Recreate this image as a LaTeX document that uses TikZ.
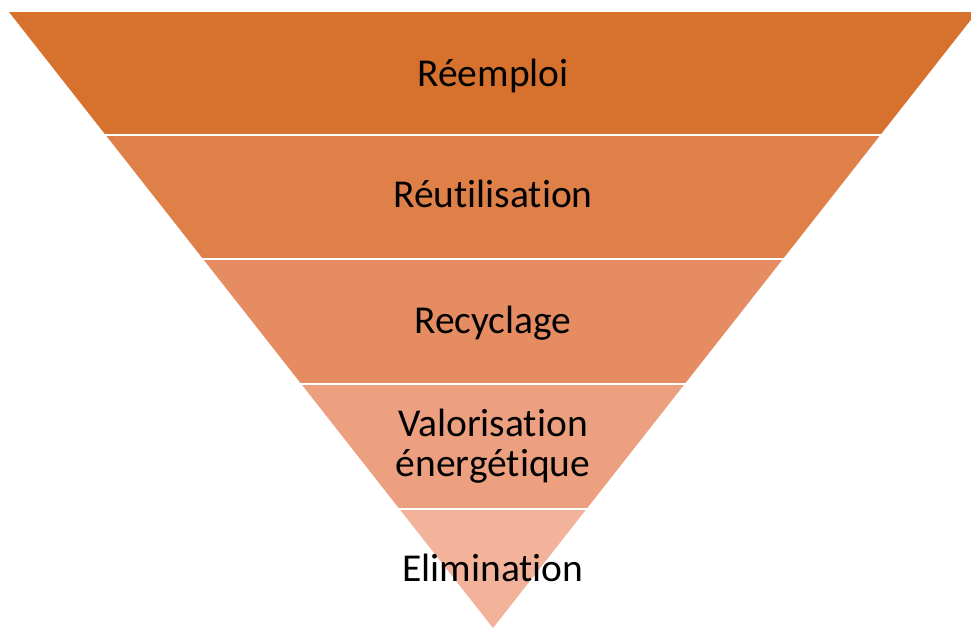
\documentclass[tikz,border=0pt]{standalone}
\usepackage{fontspec}
\setmainfont[RawFeature={-liga;-clig}]{Carlito}
\definecolor{bandA}{RGB}{215,113,46}
\definecolor{bandB}{RGB}{223,128,72}
\definecolor{bandC}{RGB}{229,140,98}
\definecolor{bandD}{RGB}{236,160,128}
\definecolor{bandE}{RGB}{243,179,154}
\tikzset{
  lbl/.style={anchor=base, inner sep=0pt, text=black, font=\fontsize{39.5}{40}\selectfont, align=center},
}
\newcommand{\tri}{(9,12) -- (977,12) -- (493,628) -- cycle}
\begin{document}
\begin{tikzpicture}[x=1pt,y=-1pt]
\useasboundingbox (0,0) rectangle (971,627);
\fill[white] (0,0) rectangle (971,627);
\clip (0,0) rectangle (971,627);
\begin{scope}
  \clip (0,12) rectangle (971,133.5);
  \fill[bandA] \tri;
\end{scope}
\begin{scope}
  \clip (0,136) rectangle (971,257.5);
  \fill[bandB] \tri;
\end{scope}
\begin{scope}
  \clip (0,260) rectangle (971,382.5);
  \fill[bandC] \tri;
\end{scope}
\begin{scope}
  \clip (0,385) rectangle (971,507.5);
  \fill[bandD] \tri;
\end{scope}
\begin{scope}
  \clip (0,510) rectangle (971,630);
  \fill[bandE] \tri;
\end{scope}
\node[lbl] (reemploi) at (493,86.7) {Réemploi};
\node[lbl] (reutil) at (493,207.3) {Réutilisation};
\node[lbl] (recycl) at (493,333.3) {Recyclage};
\node[lbl] (valor) at (493,436) {Valorisation};
\node[lbl] (energ) at (493,476) {énergétique};
\node[lbl] (elim) at (493,581) {Elimination};
\end{tikzpicture}
\end{document}
